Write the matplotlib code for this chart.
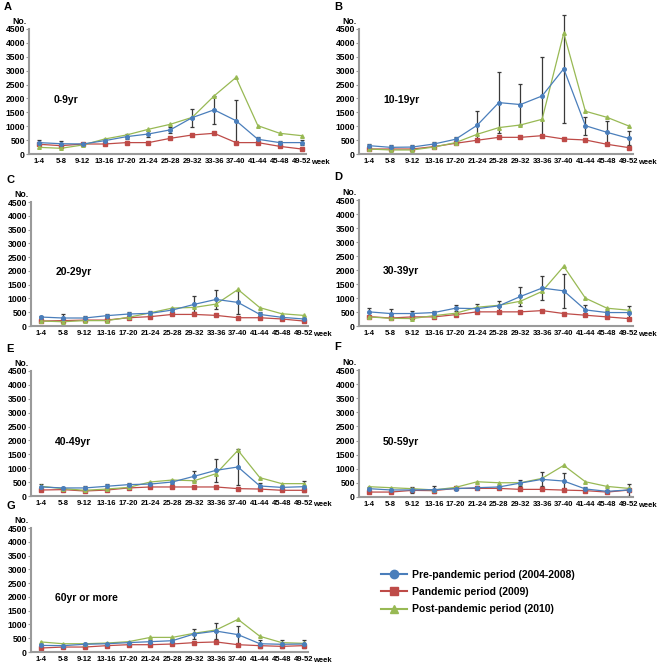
import numpy as np
import matplotlib.pyplot as plt
from matplotlib.lines import Line2D

plt.rcParams['font.family'] = ['Liberation Sans', 'DejaVu Sans']

weeks = ['1-4', '5-8', '9-12', '13-16', '17-20', '21-24', '25-28',
         '29-32', '33-36', '37-40', '41-44', '45-48', '49-52']

panels = ['A', 'B', 'C', 'D', 'E', 'F', 'G']
ages = ['0-9yr', '10-19yr', '20-29yr', '30-39yr', '40-49yr', '50-59yr', '60yr or more']

# pre-pandemic mean (2004-2008)
pre_A = [410, 370, 360, 480, 625, 720, 870, 1310, 1590, 1200, 530, 410, 410]
pre_B = [300, 240, 250, 360, 530, 1035, 1850, 1780, 2090, 3070, 1020, 780, 565]
pre_C = [325, 290, 290, 375, 435, 460, 580, 785, 965, 855, 420, 315, 255]
pre_D = [505, 445, 445, 480, 635, 620, 720, 1055, 1355, 1255, 575, 480, 480]
pre_E = [325, 290, 290, 350, 410, 430, 505, 710, 925, 1045, 360, 310, 335]
pre_F = [295, 250, 250, 260, 295, 330, 355, 495, 625, 565, 285, 200, 250]
pre_G = [240, 230, 280, 300, 340, 375, 410, 655, 760, 630, 300, 280, 290]

# standard deviation of the pre-pandemic period
sd_A = [100, 90, 50, 50, 100, 120, 100, 320, 500, 750, 80, 60, 90]
sd_B = [60, 80, 60, 80, 80, 500, 1110, 740, 1390, 1950, 330, 420, 250]
sd_C = [50, 130, 60, 50, 80, 100, 60, 290, 330, 410, 80, 40, 40]
sd_D = [155, 155, 105, 70, 105, 170, 180, 355, 440, 600, 165, 60, 225]
sd_E = [120, 40, 70, 80, 60, 50, 60, 180, 420, 650, 110, 40, 190]
sd_F = [60, 50, 100, 120, 40, 45, 40, 100, 245, 300, 60, 60, 200]
sd_G = [60, 40, 40, 40, 40, 60, 50, 180, 300, 325, 150, 150, 150]

# pandemic period (2009)
pan_A = [350, 300, 360, 360, 410, 410, 565, 685, 745, 410, 410, 275, 180]
pan_B = [180, 180, 180, 265, 385, 495, 600, 600, 660, 540, 505, 350, 230]
pan_C = [180, 195, 215, 215, 300, 340, 420, 420, 385, 300, 300, 255, 180]
pan_D = [335, 285, 325, 325, 405, 505, 505, 505, 550, 445, 385, 325, 265]
pan_E = [215, 230, 180, 215, 290, 325, 325, 325, 325, 265, 250, 205, 205]
pan_F = [175, 175, 235, 225, 305, 305, 305, 270, 270, 245, 225, 175, 245]
pan_G = [145, 180, 180, 230, 265, 265, 290, 340, 365, 265, 230, 205, 230]

# post-pandemic period (2010)
post_A = [240, 205, 325, 540, 685, 890, 1070, 1320, 2090, 2755, 1020, 745, 660]
post_B = [180, 145, 145, 250, 410, 710, 950, 1045, 1250, 4355, 1540, 1320, 1010]
post_C = [180, 155, 195, 195, 315, 480, 650, 675, 795, 1325, 665, 445, 385]
post_D = [325, 275, 265, 370, 455, 670, 740, 885, 1235, 2130, 995, 635, 565]
post_E = [350, 265, 205, 250, 310, 505, 575, 550, 805, 1645, 660, 445, 445]
post_F = [365, 330, 295, 250, 340, 540, 505, 505, 660, 1120, 540, 375, 305]
post_G = [365, 300, 300, 325, 375, 530, 530, 680, 800, 1185, 570, 340, 315]

pre = [pre_A, pre_B, pre_C, pre_D, pre_E, pre_F, pre_G]
sd = [sd_A, sd_B, sd_C, sd_D, sd_E, sd_F, sd_G]
pan = [pan_A, pan_B, pan_C, pan_D, pan_E, pan_F, pan_G]
post = [post_A, post_B, post_C, post_D, post_E, post_F, post_G]

series_names = ['Pre-pandemic period (2004-2008)', 'Pandemic period (2009)',
                'Post-pandemic period (2010)']

c_blue = '#4a7ebb'
c_red = '#be4b48'
c_green = '#98b954'
c_axis = '#9a9a9a'

W, H = 661, 665
fig = plt.figure(figsize=(W / 100, H / 100), dpi=100)

# axes boxes in pixels: left, top(4500), right, bottom(0)
boxes = [(29, 29, 306, 154), (359, 29, 633, 154),
         (31, 202, 308, 326), (359, 200, 633, 326),
         (31, 371, 308, 496), (359, 370, 633, 497),
         (31, 528, 308, 652)]

x = np.arange(len(weeks))
for i in range(7):
    l, t, r, b = boxes[i]
    ax = fig.add_axes([l / W, 1 - b / H, (r - l) / W, (b - t) / H])
    ax.errorbar(x, pre[i], yerr=sd[i], fmt='none', ecolor='#3a3a3a',
                elinewidth=0.9, capsize=1.5, capthick=0.9, zorder=1, clip_on=False)
    ax.plot(x, pre[i], color=c_blue, lw=0.9, marker='o', ms=2.6, zorder=3, clip_on=False)
    ax.plot(x, pan[i], color=c_red, lw=0.9, marker='s', ms=2.6, zorder=2, clip_on=False)
    ax.plot(x, post[i], color=c_green, lw=0.9, marker='^', ms=2.6, zorder=2, clip_on=False)
    ax.set_xlim(-0.46, 12.2)
    ax.set_ylim(0, 4500)
    ax.set_yticks(np.arange(0, 4501, 500))
    ax.set_xticks(x)
    ax.set_xticklabels(weeks, fontsize=5.5, fontweight='bold')
    for lab in ax.get_yticklabels():
        lab.set_fontsize(6.2)
        lab.set_fontweight('bold')
    ax.tick_params(axis='x', length=0, pad=3)
    ax.tick_params(axis='y', length=2, width=0.8, color=c_axis, pad=1)
    for s in ['top', 'right']:
        ax.spines[s].set_visible(False)
    for s in ['left', 'bottom']:
        ax.spines[s].set_color(c_axis)
        ax.spines[s].set_linewidth(1.5)
    ax.text(0.65, 1950, ages[i], fontsize=7.5, fontweight='bold', va='center', ha='left')
    ax.text(1.018, -0.066, 'week', transform=ax.transAxes, fontsize=5.5,
            fontweight='bold', va='center', ha='left')
    ax.text(-0.06, 1.06, 'No.', transform=ax.transAxes, fontsize=6.2,
            fontweight='bold', va='center', ha='left')
    ax.text(-0.09, 1.18, panels[i], transform=ax.transAxes, fontsize=8,
            fontweight='bold', va='center', ha='left')

# legend
leg_handles = [Line2D([], [], color=c_blue, marker='o', ms=6, lw=1.5),
               Line2D([], [], color=c_red, marker='s', ms=6, lw=1.5),
               Line2D([], [], color=c_green, marker='^', ms=6, lw=1.5)]
fig.legend(leg_handles, series_names, loc='center left',
           bbox_to_anchor=(372 / W, 1 - 592 / H), frameon=False,
           prop={'weight': 'bold', 'size': 7.5}, handlelength=2.5,
           handletextpad=0.4, labelspacing=0.7)

fig.savefig('out.png', dpi=100)
